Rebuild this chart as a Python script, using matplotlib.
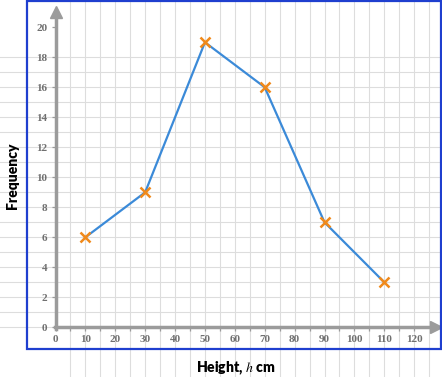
'''
frequency polygon of heights
'''
import matplotlib
matplotlib.use('Agg')
import matplotlib.pyplot as plt
from matplotlib.patches import Rectangle
import numpy as np

# data
heights = [10, 30, 50, 70, 90, 110]
freqs = [6, 9, 19, 16, 7, 3]
xticks = np.arange(0, 121, 10)
yticks = np.arange(0, 21, 2)

# layout (px of a 442x377 image)
W, H, DPI = 442, 377, 100
X0, XS = 55.5, 2.989      # px of x=0, px per cm
Y0, YS = 327.3, 15.0      # px (from top) of y=0, px per unit
GRAY = '#9b9b9b'
GRID = '#dddddd'
BLUE = '#1f3fcf'

fig = plt.figure(figsize=(W / DPI, H / DPI), dpi=DPI)
ax = fig.add_axes([0, 0, 1, 1])
ax.set_xlim(-X0 / XS, (W - X0) / XS)
ax.set_ylim((Y0 - H) / YS, Y0 / YS)
ax.patch.set_visible(False)

# background grid (runs past the box)
for u in range(5, 126, 5):
    ax.axvline(u, color=GRID, lw=0.8, zorder=0)
for f in range(0, 19):
    ax.axhline(f, color=GRID, lw=0.8, zorder=0)

# axes through origin
for s in ['top', 'right']:
    ax.spines[s].set_visible(False)
ax.spines['left'].set_position(('data', 0))
ax.spines['bottom'].set_position(('data', 0))
ax.spines['left'].set_bounds(-0.1, 20.9)
ax.spines['bottom'].set_bounds(-0.3, 125.5)
for s in ['left', 'bottom']:
    ax.spines[s].set_color(GRAY)
    ax.spines[s].set_linewidth(2.5)
    ax.spines[s].set_zorder(2)
ax.plot([0], [21.05], marker='^', ms=9, color=GRAY, clip_on=False, zorder=2)
ax.plot([127.3], [0], marker='>', ms=9, color=GRAY, clip_on=False, zorder=2)

tickfont = dict(family='Liberation Serif', weight='bold', size=8)
ax.set_xticks(xticks)
ax.set_xticks(np.arange(5, 121, 10), minor=True)
ax.set_yticks(yticks)
ax.set_xticklabels([str(t) for t in xticks], fontdict=tickfont, color='#707070')
ax.set_yticklabels([str(t) for t in yticks], fontdict=tickfont, color='#707070')
ax.tick_params(which='both', direction='out', length=3, width=0.9, color=GRAY)
ax.tick_params(axis='x', pad=2.5)
ax.tick_params(axis='y', pad=3)

# polygon
ax.plot(heights, freqs, color='#3b8ad8', lw=1.6, zorder=3)
ax.plot(heights, freqs, ls='none', marker='x', ms=6.5, mew=1.8, color='#f0891a', zorder=4)

# frame
fig.patches.append(Rectangle((27 / W, (H - 349) / H), 414 / W, 348 / H,
                             transform=fig.transFigure, fill=False,
                             ec=BLUE, lw=1.6, zorder=5))

plt.rcParams['mathtext.fontset'] = 'stix'
fig.text(12 / W, 1 - 176 / H, 'Frequency', rotation=90, ha='center', va='center',
         family='Lato', weight='heavy', size=10, color='black')
fig.text(236 / W, 1 - 368 / H, r'Height, $\mathit{h}$ cm', ha='center', va='center',
         family='Lato', weight='heavy', size=10, color='black')

fig.savefig('out.png', dpi=DPI)
